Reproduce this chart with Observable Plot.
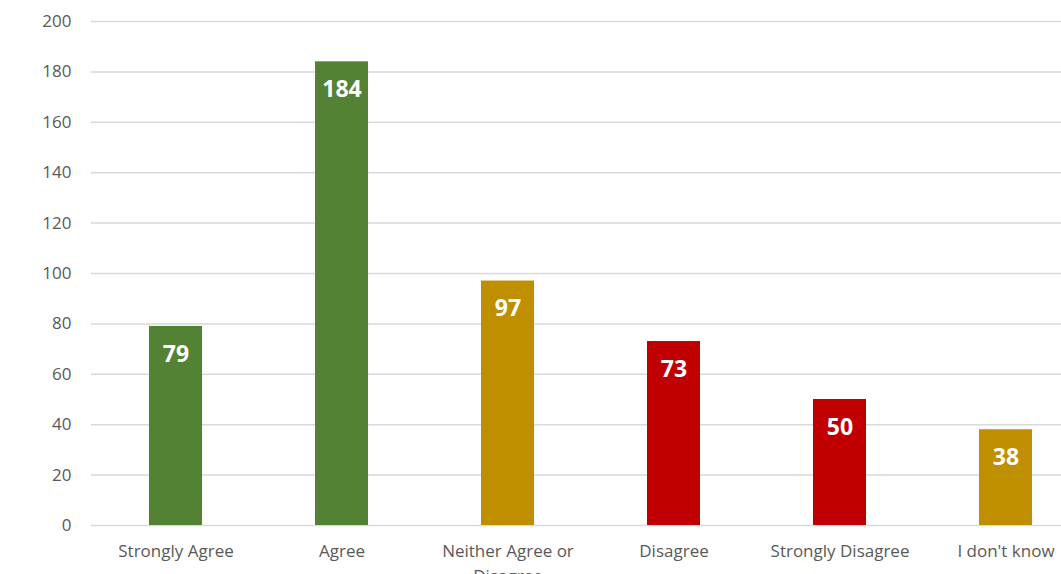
<!DOCTYPE html>
<html>
<head>
<meta charset="utf-8">
<script src="https://cdn.jsdelivr.net/npm/d3@7"></script>
<script src="https://cdn.jsdelivr.net/npm/@observablehq/plot@0.6"></script>
<style>
  html, body { margin: 0; padding: 0; background: #fff; overflow: hidden; }
</style>
</head>
<body>
<div id="chart"></div>
<script>
const categories = ["Strongly Agree", "Agree", "Neither Agree or Disagree", "Disagree", "Strongly Disagree", "I don't know"];
const counts = [79, 184, 97, 73, 50, 38];
const barColors = ["#548235", "#548235", "#BF8F00", "#C00000", "#C00000", "#BF8F00"];
const yTicks = [0, 20, 40, 60, 80, 100, 120, 140, 160, 180, 200];

const data = categories.map((c, i) => ({category: c, count: counts[i], color: barColors[i]}));

const chart = Plot.plot({
  width: 1061,
  height: 574,
  marginTop: 21,
  marginBottom: 49,
  marginLeft: 91,
  marginRight: 0,
  style: {fontFamily: "'Open Sans', sans-serif", fontSize: "17px", color: "#595959", background: "#fff"},
  x: {domain: categories, range: [92, 1089], paddingInner: 0.68, paddingOuter: 0.34, align: 0.5, label: null},
  y: {domain: [0, 200], label: null},
  marks: [
    Plot.ruleY(yTicks, {stroke: "#d9d9d9", strokeWidth: 1.5}),
    Plot.axisY(yTicks, {tickSize: 0, tickPadding: 20, label: null, fill: "#595959", fontSize: 17}),
    Plot.axisX({tickSize: 0, tickPadding: 14, label: null, lineWidth: 10, lineHeight: 1.45, fill: "#595959", fontSize: 17}),
    Plot.barY(data, {x: "category", y: "count", fill: "color"}),
    Plot.text(data, {x: "category", y: "count", text: d => String(d.count), dy: 28, fill: "white", fontWeight: "bold", fontSize: 23})
  ]
});
document.getElementById("chart").appendChild(chart);
</script>
</body>
</html>
